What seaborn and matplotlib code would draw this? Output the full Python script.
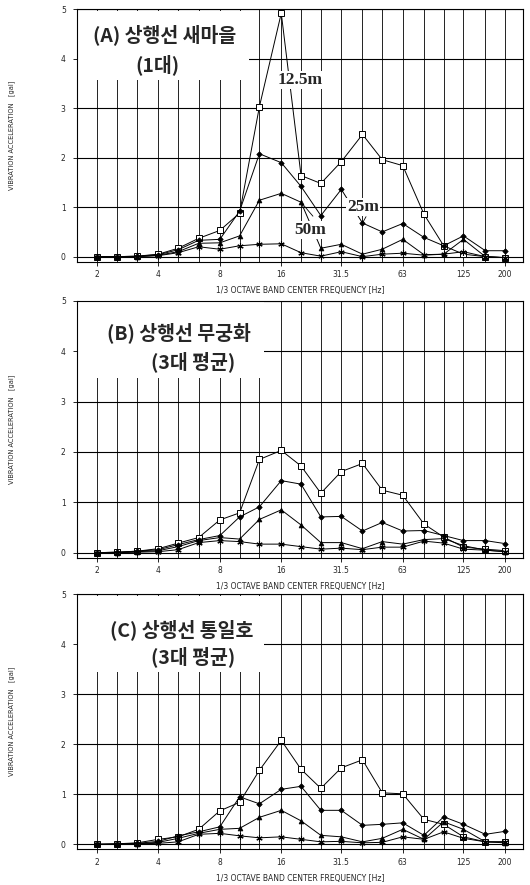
import numpy as np
import pandas as pd
import matplotlib
matplotlib.use("Agg")
import matplotlib.pyplot as plt
import matplotlib.ticker as mticker
from matplotlib.patches import Rectangle
import seaborn as sns

# ---------------- data ----------------
freqs = [2, 2.5, 3.15, 4, 5, 6.3, 8, 10, 12.5, 16, 20, 25, 31.5, 40, 50, 63, 80, 100, 125, 160, 200]
tick_freqs = [2, 4, 8, 16, 31.5, 63, 125, 200]
tick_labels = ["2", "4", "8", "16", "31.5", "63", "125", "200"]
y_ticks = [0, 1, 2, 3, 4, 5]
distances = ["12.5m", "25m", "50m", "100m"]

# (A) 상행선 새마을 (1대)
a_125 = [0, 0, 0.01, 0.05, 0.17, 0.37, 0.53, 0.88, 3.03, 4.92, 1.64, 1.48, 1.92, 2.47, 1.96, 1.84, 0.86, 0.22, 0.05, 0.0, -0.02]
a_25 = [0, 0, 0.01, 0.04, 0.14, 0.33, 0.35, 0.92, 2.08, 1.90, 1.42, 0.83, 1.36, 0.68, 0.50, 0.67, 0.39, 0.22, 0.42, 0.12, 0.12]
a_50 = [0, 0, 0.0, 0.03, 0.10, 0.27, 0.28, 0.42, 1.14, 1.28, 1.10, 0.17, 0.25, 0.05, 0.15, 0.35, 0.04, 0.05, 0.35, 0.0, -0.02]
a_100 = [0, 0, 0.0, 0.02, 0.08, 0.20, 0.15, 0.22, 0.25, 0.26, 0.08, 0.01, 0.10, 0.0, 0.05, 0.07, 0.03, 0.05, 0.10, 0.0, -0.02]

# (B) 상행선 무궁화 (3대 평균)
b_125 = [0, 0.01, 0.03, 0.08, 0.19, 0.30, 0.65, 0.79, 1.85, 2.03, 1.72, 1.18, 1.61, 1.77, 1.24, 1.14, 0.57, 0.31, 0.11, 0.07, 0.04]
b_25 = [0, 0.01, 0.03, 0.06, 0.16, 0.26, 0.34, 0.71, 0.91, 1.43, 1.36, 0.71, 0.72, 0.43, 0.60, 0.43, 0.44, 0.34, 0.24, 0.24, 0.18]
b_50 = [0, 0.0, 0.02, 0.04, 0.12, 0.24, 0.30, 0.27, 0.66, 0.85, 0.55, 0.20, 0.20, 0.08, 0.22, 0.17, 0.26, 0.28, 0.14, 0.05, 0.02]
b_100 = [0, 0.0, 0.01, 0.02, 0.06, 0.20, 0.24, 0.22, 0.17, 0.17, 0.12, 0.07, 0.09, 0.06, 0.11, 0.11, 0.23, 0.19, 0.07, 0.05, 0.02]

# (C) 상행선 통일호 (3대 평균)
c_125 = [0, 0.01, 0.03, 0.10, 0.15, 0.30, 0.67, 0.84, 1.48, 2.08, 1.50, 1.12, 1.53, 1.69, 1.03, 1.01, 0.50, 0.40, 0.15, 0.05, 0.05]
c_25 = [0, 0.01, 0.02, 0.06, 0.17, 0.25, 0.35, 0.95, 0.81, 1.10, 1.16, 0.68, 0.68, 0.38, 0.40, 0.43, 0.18, 0.55, 0.40, 0.20, 0.26]
c_50 = [0, 0.0, 0.01, 0.04, 0.12, 0.22, 0.30, 0.32, 0.54, 0.68, 0.47, 0.18, 0.15, 0.05, 0.12, 0.30, 0.10, 0.45, 0.30, 0.05, 0.03]
c_100 = [0, 0.0, 0.01, 0.02, 0.05, 0.20, 0.22, 0.17, 0.13, 0.15, 0.10, 0.05, 0.06, 0.03, 0.04, 0.15, 0.10, 0.25, 0.12, 0.05, 0.05]

panel_titles = [("(A) 상행선 새마을", "(1대)"),
                ("(B) 상행선 무궁화", "(3대 평균)"),
                ("(C) 상행선 통일호", "(3대 평균)")]
panel_series = [[a_125, a_25, a_50, a_100],
                [b_125, b_25, b_50, b_100],
                [c_125, c_25, c_50, c_100]]

# ---------------- styling ----------------
sns.set_theme(style="white")
plt.rcParams["font.family"] = ["DejaVu Sans"]

marker_styles = {
    "12.5m": dict(marker="s", ms=4.5, mfc="white", mec="black", mew=0.7),
    "25m": dict(marker="D", ms=2.8, mfc="black", mec="black", mew=0.5),
    "50m": dict(marker="^", ms=3.5, mfc="black", mec="black", mew=0.5),
    "100m": dict(marker=(6, 2, 0), ms=4.5, mfc="black", mec="black", mew=0.8),
}

fig = plt.figure(figsize=(5.3, 8.85), dpi=100)
rects = [[0.145, 0.7044, 0.842, 0.2851],
         [0.145, 0.3698, 0.842, 0.2904],
         [0.145, 0.0403, 0.842, 0.2882]]
box_w = [0.383, 0.417, 0.417]
box_y = [0.72, 0.70, 0.696]
t1_pos = [(0.197, 0.898), (0.229, 0.874), (0.235, 0.86)]
t2_pos = [(0.18, 0.779), (0.261, 0.761), (0.261, 0.755)]

korean = ["Noto Sans CJK KR", "DejaVu Sans"]

for i in range(3):
    ax = fig.add_axes(rects[i])
    rows = []
    for d, vals in zip(distances, panel_series[i]):
        for f, v in zip(freqs, vals):
            rows.append({"freq": f, "acc": v, "dist": d})
    df = pd.DataFrame(rows)
    for d in distances:
        sub = df[df["dist"] == d]
        sns.lineplot(data=sub, x="freq", y="acc", ax=ax, color="black",
                     lw=0.7, zorder=4, **marker_styles[d])
    ax.set_xscale("log")
    ax.set_xlim(1.594, 245)
    ax.set_ylim(-0.1, 5.0)
    ax.xaxis.set_major_locator(mticker.FixedLocator(tick_freqs))
    ax.xaxis.set_major_formatter(mticker.FixedFormatter(tick_labels))
    ax.xaxis.set_minor_locator(mticker.FixedLocator(freqs))
    ax.xaxis.set_minor_formatter(mticker.NullFormatter())
    ax.set_yticks(y_ticks)
    ax.set_axisbelow(True)
    ax.grid(True, which="minor", axis="x", color="#222222", lw=0.7)
    ax.grid(True, which="major", axis="x", color="#222222", lw=0.7)
    ax.grid(True, which="major", axis="y", color="black", lw=0.8)
    ax.tick_params(axis="both", which="major", labelsize=5.5, length=3,
                   width=0.6, color="black", pad=3, bottom=True, left=True)
    ax.tick_params(axis="y", which="major", pad=5)
    ax.tick_params(axis="x", which="minor", length=0)
    for sp in ax.spines.values():
        sp.set_color("black")
        sp.set_linewidth(0.8)
    ax.set_xlabel("1/3 OCTAVE BAND CENTER FREQUENCY [Hz]", fontsize=5.5, labelpad=5)
    ax.set_ylabel("VIBRATION ACCELERATION   [gal]", fontsize=4.8)
    ax.yaxis.set_label_coords(-0.138, 0.5)

    ax.add_patch(Rectangle((0.002, box_y[i]), box_w[i], 0.995 - box_y[i],
                           transform=ax.transAxes, facecolor="white",
                           edgecolor="none", zorder=2))
    ax.text(t1_pos[i][0], t1_pos[i][1], panel_titles[i][0], transform=ax.transAxes,
            ha="center", va="center", fontsize=14, fontweight="bold",
            family=korean, zorder=5)
    ax.text(t2_pos[i][0], t2_pos[i][1], panel_titles[i][1], transform=ax.transAxes,
            ha="center", va="center", fontsize=14, fontweight="bold",
            family=korean, zorder=5)

    if i == 0:
        lab_kw = dict(transform=ax.transAxes, ha="center", va="center",
                      fontsize=12.5, fontweight="bold", family="Liberation Serif",
                      zorder=6, bbox=dict(facecolor="white", edgecolor="none", pad=0.6))
        ax.text(0.50, 0.72, "12.5m", **lab_kw)
        ax.text(0.641, 0.216, "25m", **lab_kw)
        ax.text(0.522, 0.125, "50m", **lab_kw)
        ax.annotate("", xy=(40, 0.68), xycoords="data",
                    xytext=(0.648, 0.178), textcoords="axes fraction",
                    arrowprops=dict(arrowstyle="-", lw=0.6, color="black",
                                    shrinkA=0, shrinkB=0), zorder=5)
        ax.annotate("", xy=(20, 1.1), xycoords="data",
                    xytext=(0.529, 0.18), textcoords="axes fraction",
                    arrowprops=dict(arrowstyle="-", lw=0.6, color="black",
                                    shrinkA=0, shrinkB=0), zorder=5)

fig.savefig("out.png", dpi=100, facecolor="white")
